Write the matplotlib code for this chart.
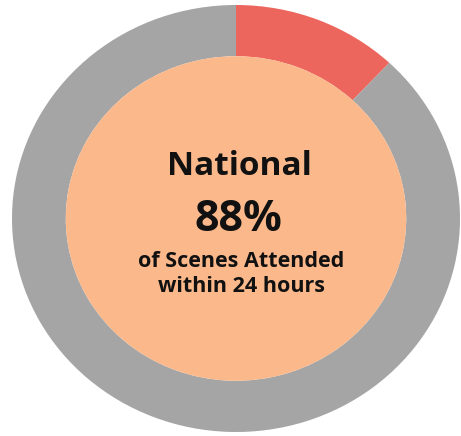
import matplotlib.pyplot as plt
from matplotlib.patches import Ellipse

# share of scenes: not attended within 24h vs attended
labels = ['Not attended', 'Attended within 24 hours']
values = [12, 88]
colors = ['#EC665D', '#A5A5A5']
headline = 'National'
pct_text = '88%'
sub_text = 'of Scenes Attended\nwithin 24 hours'

W, H = 461, 436
fig = plt.figure(figsize=(W / 100, H / 100), dpi=100)

# ring box in pixels: x 12..460, y 5..432
x0, x1, y0, y1 = 12, 460, 5, 432
ax = fig.add_axes([x0 / W, 1 - y1 / H, (x1 - x0) / W, (y1 - y0) / H])
inner = 0.76
ax.pie(values, colors=colors, startangle=90, counterclock=False, radius=1,
       wedgeprops=dict(width=1 - inner, linewidth=0))
ax.add_patch(Ellipse((0, 0), 2 * inner, 2 * inner, facecolor='#FBB98B', edgecolor='none'))
ax.set_aspect('auto')
ax.set_xlim(-1, 1)
ax.set_ylim(-1, 1)
ax.axis('off')

fam = ['Open Sans', 'DejaVu Sans']
fig.text(239 / W, 1 - 166 / H, headline, ha='center', va='center',
         fontsize=24, fontweight='bold', family=fam, color='#111111')
fig.text(238 / W, 1 - 219 / H, pct_text, ha='center', va='center',
         fontsize=31, fontweight='bold', family=fam, color='#111111')
fig.text(241 / W, 1 - 274 / H, sub_text, ha='center', va='center',
         fontsize=15.5, fontweight='bold', family=fam, color='#111111',
         linespacing=1.25)

fig.savefig('out.png', dpi=100)
